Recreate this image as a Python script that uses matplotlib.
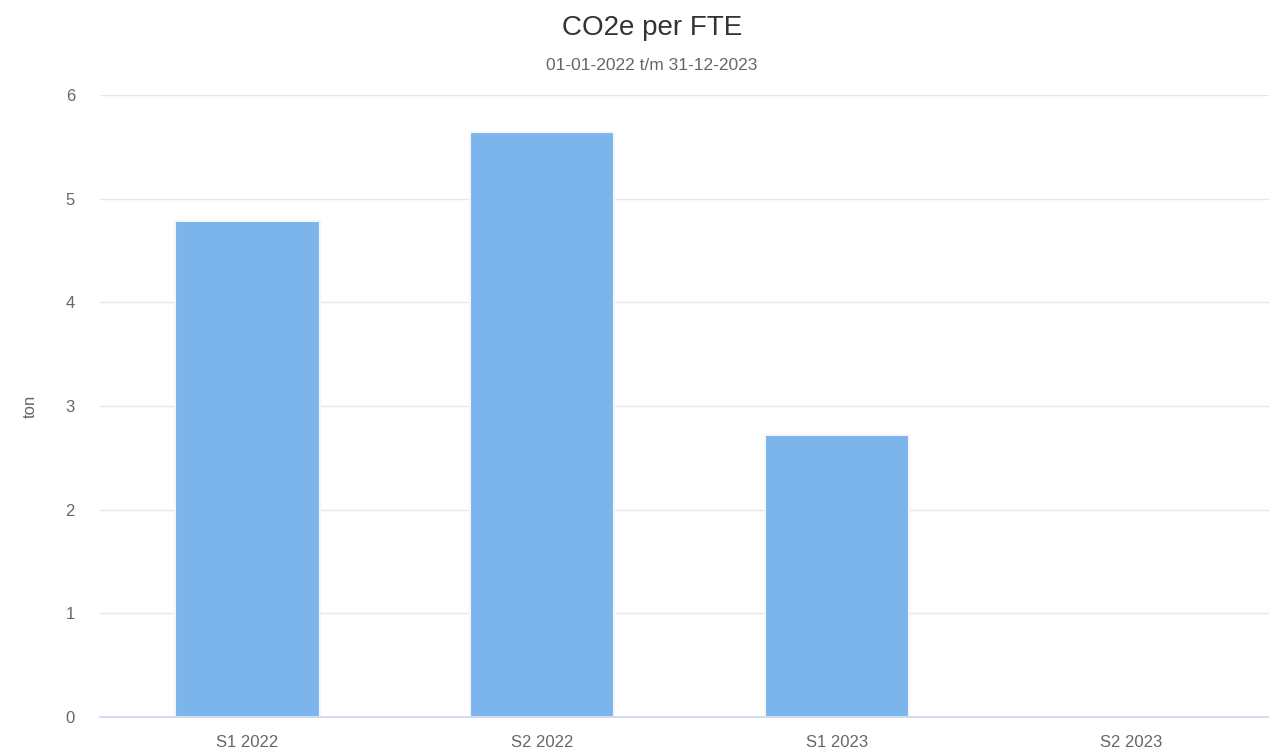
import matplotlib
matplotlib.use("Agg")
import matplotlib.pyplot as plt

categories = ["S1 2022", "S2 2022", "S1 2023", "S2 2023"]
values = [4.78, 5.64, 2.72, 0.0]
yticks = [0, 1, 2, 3, 4, 5, 6]

plt.rcParams['font.family'] = ['Liberation Sans', 'DejaVu Sans']

W, H = 1269, 749
fig = plt.figure(figsize=(W/100, H/100), dpi=100)
left, right, top, bottom = 100, 1279, 95, 717
ax = fig.add_axes([left/W, (H-bottom)/H, (right-left)/W, (bottom-top)/H])

x = list(range(len(categories)))
ax.bar(x, values, width=0.49, color="#7cb5ec", edgecolor="#f4f6f9", linewidth=1.5, zorder=3)

ax.set_xlim(-0.5, len(categories) - 0.5)
ax.set_ylim(0, 6)
ax.set_yticks(yticks)
ax.set_yticklabels([str(t) for t in yticks])
ax.set_xticks(x)
ax.set_xticklabels(categories)
ax.grid(axis="y", color="#e6e6e6", linewidth=1, zorder=0)
ax.tick_params(axis="both", length=0, colors="#666666", labelsize=12)
ax.tick_params(axis="y", pad=18)
ax.tick_params(axis="x", pad=13)
for s in ["top", "right", "left"]:
    ax.spines[s].set_visible(False)
ax.spines["bottom"].set_color("#ccd6eb")
ax.spines["bottom"].set_linewidth(1.2)
ax.spines["bottom"].set_zorder(4)

fig.text(30/W, 1 - 406/H, "ton", rotation=90, ha="center", va="center", fontsize=12, color="#666666")

fig.text(652/W, 1 - 28/H, "CO2e per FTE", ha="center", va="center", fontsize=20, color="#333333")
fig.text(652/W, 1 - 65/H, "01-01-2022 t/m 31-12-2023", ha="center", va="center", fontsize=12.5, color="#666666")

fig.savefig("out.png", dpi=100)
